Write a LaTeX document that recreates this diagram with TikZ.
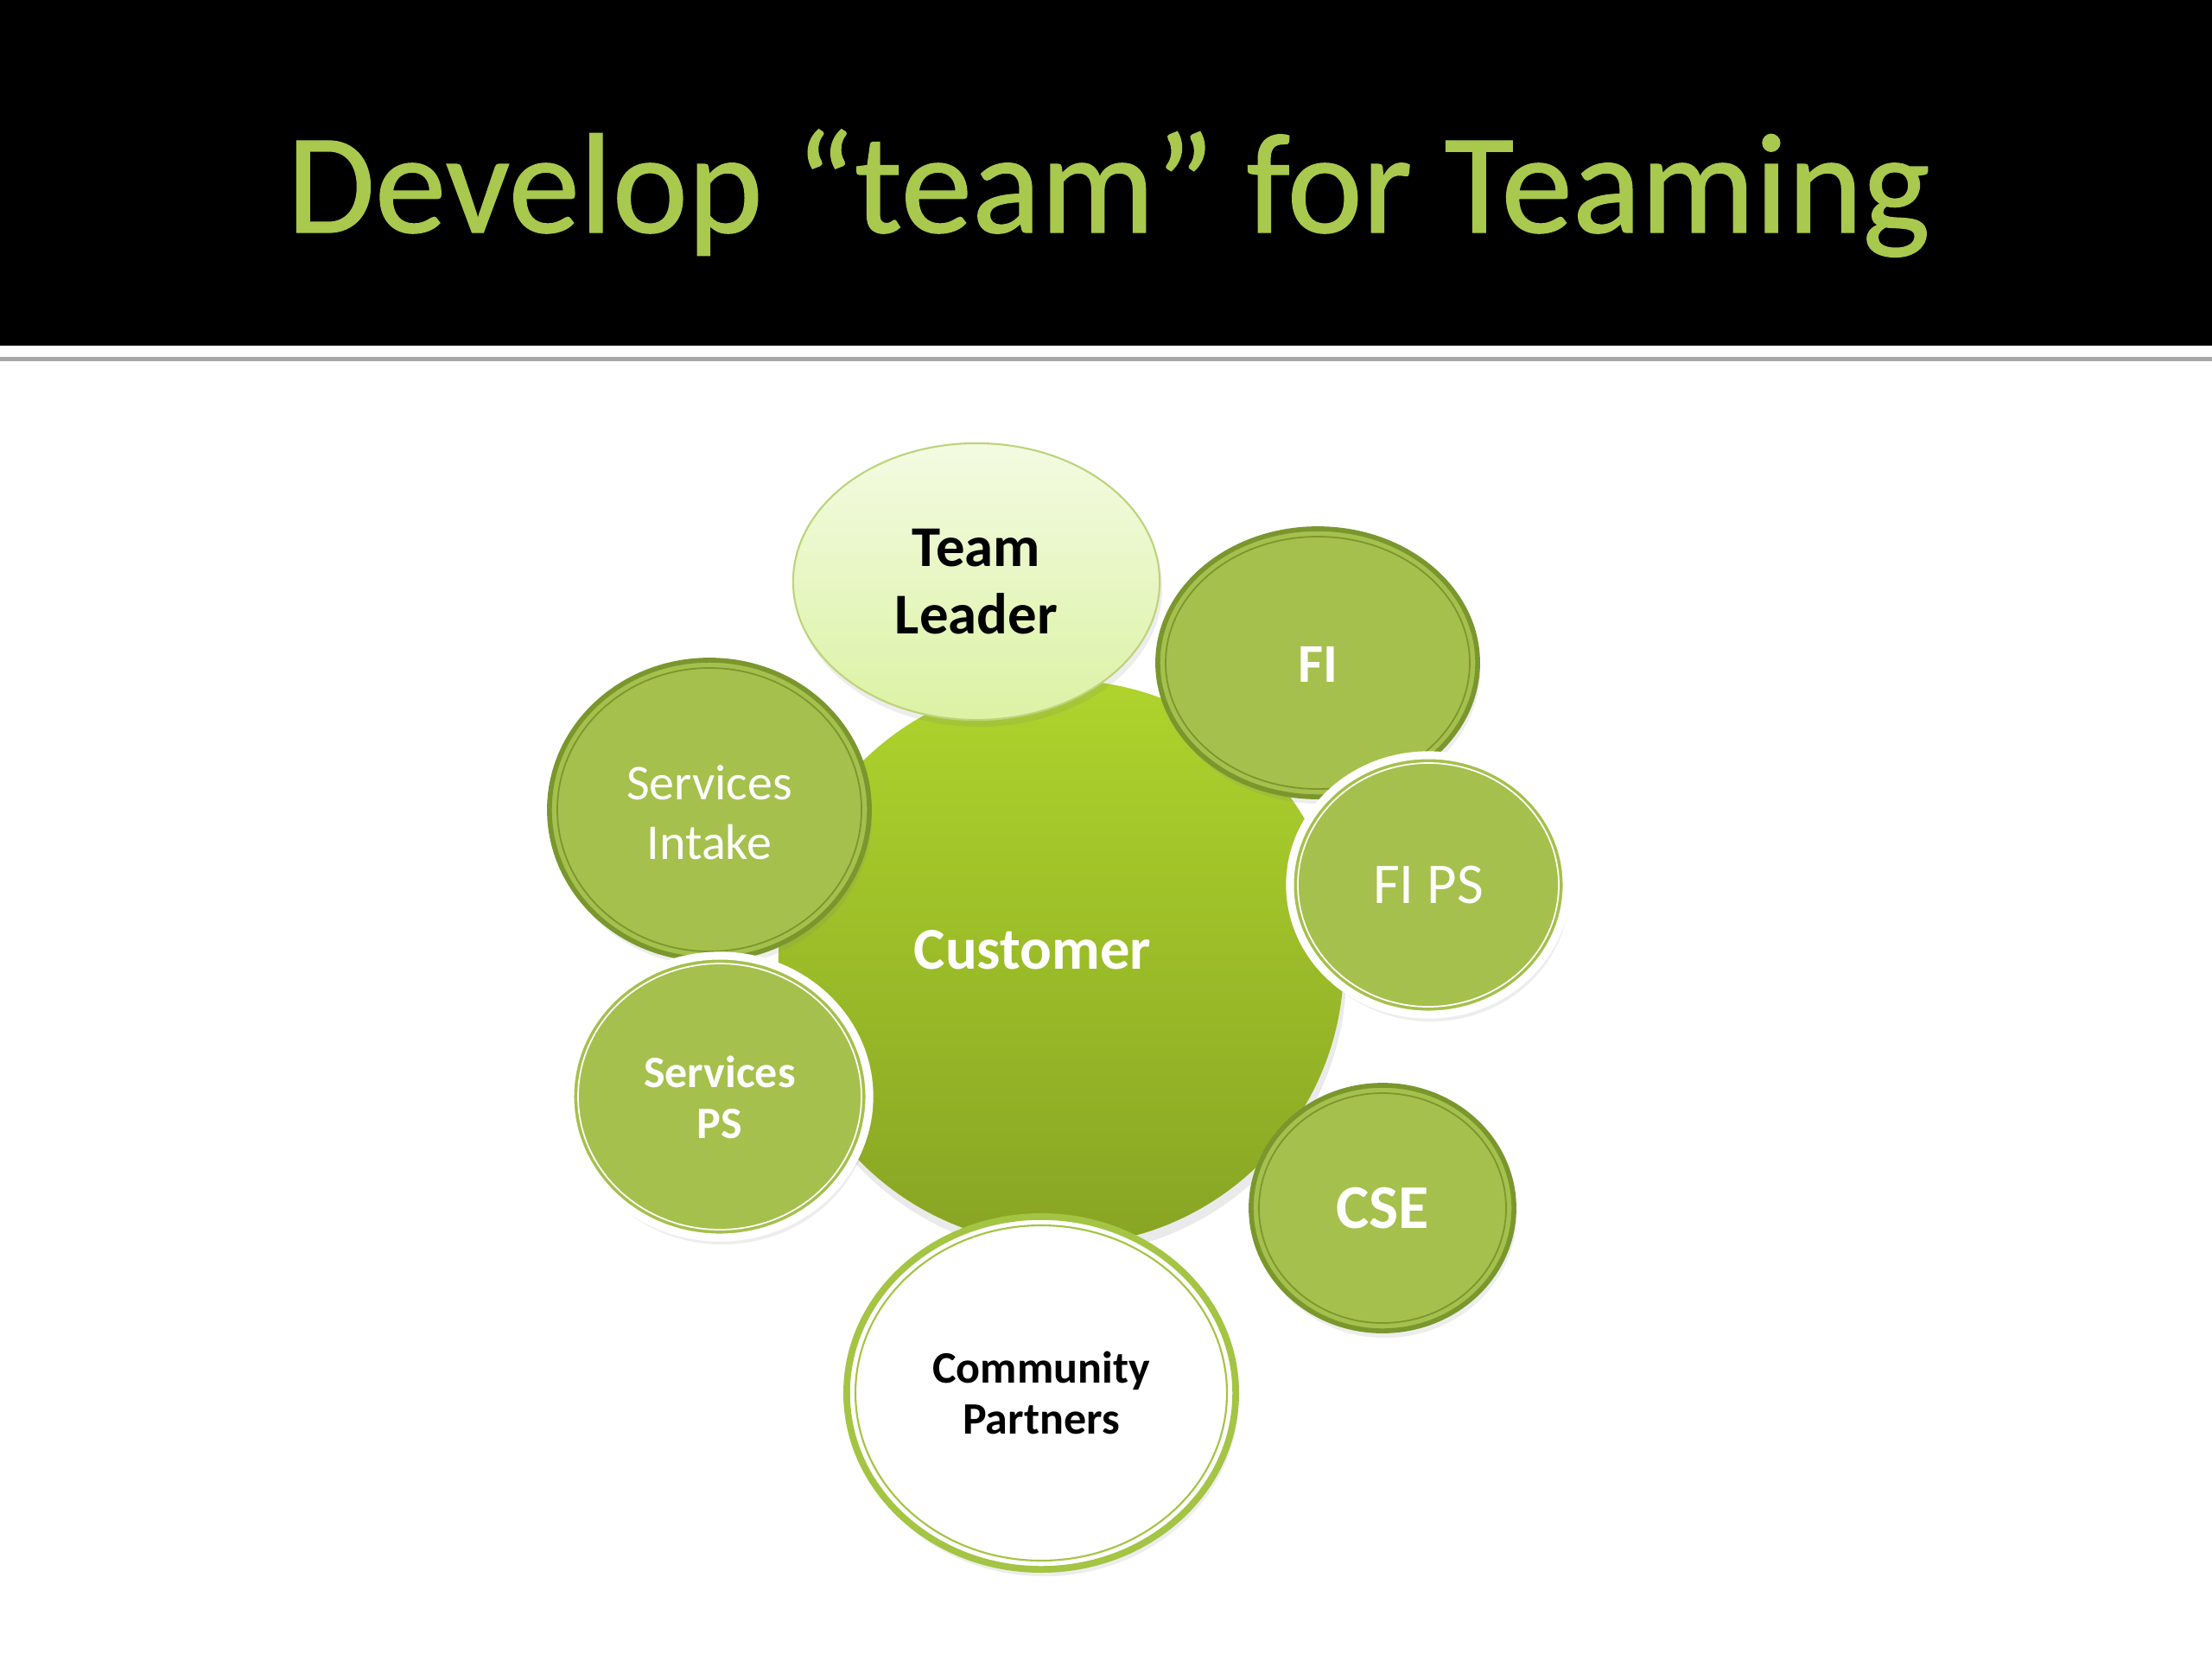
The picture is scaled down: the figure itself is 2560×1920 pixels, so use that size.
\documentclass[tikz,border=0pt]{standalone}
\usepackage{fontspec}
\setmainfont{Carlito}
\newfontfamily\titlefont[FakeBold=0.8]{Carlito}
\usetikzlibrary{shapes.geometric,shadows}
\definecolor{titlegreen}{HTML}{A8C84E}
\definecolor{midgreen}{HTML}{A5C04C}
\definecolor{darkrim}{HTML}{7A972E}
\definecolor{custtop}{HTML}{AED42C}
\definecolor{custbot}{HTML}{88A424}
\definecolor{leadtop}{HTML}{F3FBE2}
\definecolor{leadbot}{HTML}{DCF2A4}
\definecolor{leadrim}{HTML}{BCD47A}
\definecolor{cprim}{HTML}{A4C444}
\definecolor{rulegray}{HTML}{A8A8A8}
\tikzset{
  blob/.style={ellipse, inner sep=0pt, drop shadow={shadow xshift=0.3mm, shadow yshift=-0.8mm, opacity=0.14}},
  darkblob/.style={blob, fill=midgreen, draw=darkrim, line width=1.6pt},
  darkinner/.style={draw=darkrim, line width=0.5pt},
  whiteblob/.style={blob, fill=midgreen, draw=white, line width=2.6pt},
  whiteinner/.style={draw=white, line width=0.5pt},
  lbl/.style={align=center, inner sep=0pt},
  wlbl/.style={lbl, text=white},
  blbl/.style={lbl, text=black}
}
\begin{document}
\begin{tikzpicture}[x=0.01cm,y=-0.01cm]
\useasboundingbox (0,0) rectangle (2560,1920);
\fill[white] (0,0) rectangle (2560,1920);
\fill[black] (0,0) rectangle (2560,400);
\fill[rulegray] (0,413) rectangle (2560,418);
\node[anchor=base, inner sep=0pt, text=titlegreen, font=\titlefont\fontsize{47}{50}\selectfont] (title) at (1283,269) {Develop “team” for Teaming};

% Customer
\node[circle, inner sep=0pt, minimum size=6.54cm, top color=custtop, bottom color=custbot, drop shadow={shadow xshift=0.3mm, shadow yshift=-1.1mm, opacity=0.16}] (cust) at (1228,1114) {};
\node[wlbl, font=\fontsize{19.5}{23}\selectfont\bfseries] (custt) at (1195,1099) {Customer};

% Team Leader
\node[blob, minimum width=4.24cm, minimum height=3.20cm, top color=leadtop, bottom color=leadbot, draw=leadrim, line width=0.6pt] (lead) at (1130,673) {};
\node[blbl, font=\fontsize{19}{22}\selectfont\bfseries] (leadt) at (1130,673) {Team\\Leader};

% FI
\node[darkblob, minimum width=3.70cm, minimum height=3.10cm] (fi) at (1525,767) {};
\draw[darkinner] (fi.center) ellipse [x radius=176, y radius=146];
\node[wlbl, font=\fontsize{18}{21}\selectfont\bfseries] (fit) at (1525,769) {FI};

% Services Intake
\node[darkblob, minimum width=3.70cm, minimum height=3.46cm] (si) at (821,937) {};
\draw[darkinner] (si.center) ellipse [x radius=176, y radius=164];
\node[wlbl, font=\fontsize{16.5}{19.6}\selectfont] (sit) at (821,940) {Services\\Intake};

% FI PS
\node[whiteblob, minimum width=3.20cm, minimum height=3.00cm] (fips) at (1653,1024) {};
\draw[whiteinner] (fips.center) ellipse [x radius=151, y radius=141];
\node[wlbl, font=\fontsize{19}{22}\selectfont] (fipst) at (1653,1024) {FI PS};

% Services PS
\node[whiteblob, minimum width=3.46cm, minimum height=3.26cm] (sps) at (833,1269) {};
\draw[whiteinner] (sps.center) ellipse [x radius=164, y radius=154];
\node[wlbl, font=\fontsize{14.8}{16.8}\selectfont\bfseries] (spst) at (833,1270) {Services\\PS};

% CSE
\node[darkblob, minimum width=3.04cm, minimum height=2.84cm] (cse) at (1600,1398) {};
\draw[darkinner] (cse.center) ellipse [x radius=143, y radius=133];
\node[wlbl, font=\fontsize{20.5}{23}\selectfont\bfseries] (cset) at (1600,1398) {CSE};

% Community Partners
\node[blob, minimum width=4.50cm, minimum height=4.08cm, fill=white, draw=cprim, line width=2.2pt] (cp) at (1205,1612) {};
\draw[draw=cprim, line width=0.6pt] (cp.center) ellipse [x radius=215, y radius=194];
\node[blbl, font=\fontsize{14.8}{16.8}\selectfont\bfseries] (cpt) at (1205,1612) {Community\\Partners};
\end{tikzpicture}
\end{document}
